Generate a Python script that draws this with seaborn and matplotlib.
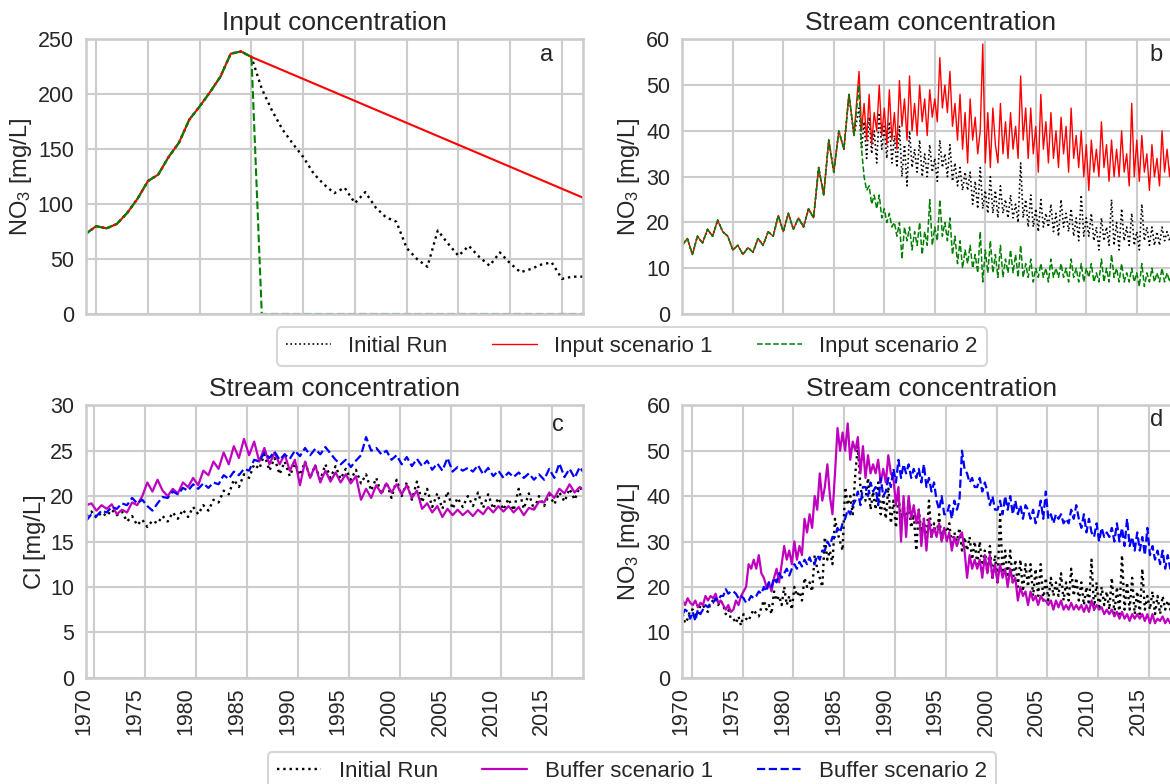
import numpy as np
import pandas as pd
import matplotlib
matplotlib.use("Agg")
import matplotlib.pyplot as plt
import seaborn as sns

# ---------------- data ----------------
# Panel a: input concentration (yearly)
a_years = [1969, 1970, 1971, 1972, 1973, 1974, 1975, 1976, 1977, 1978,
           1979, 1980, 1981, 1982, 1983, 1984, 1985]
a_common = [73, 80, 78, 82, 92, 105, 121, 127, 143, 156,
            177, 189, 202, 216, 237, 239, 234]
a_initial_years = list(range(1986, 2018))
a_initial_tail = [205, 185, 168, 155, 143, 128, 118, 110, 115, 101, 111, 97, 88, 84,
                  60, 50, 43, 76, 64, 53, 62, 52, 44, 56, 46, 38, 41, 45, 47, 32, 34, 34]
a_scen1_years = [2017]
a_scen1_tail = [106]
a_scen2_years = [1986, 2017]
a_scen2_tail = [0, 0]

# Panel b: stream NO3 -- shared part half-yearly from 1970.0, tails quarterly from 1987.5
b_start = 1970.0
b_tail_start = 1987.5
b_common = [15, 16.5, 13, 17, 15.5, 18.5, 17, 20.5, 18, 17, 14, 15, 13, 14.5, 13.5,
            16.5, 15, 18, 17, 21.5, 18, 22, 18.5, 21, 19, 23, 21, 32, 26, 38, 31,
            40, 36, 48, 39]
b_initial_tail = [45, 36, 42, 34, 43, 35, 40, 33, 44, 36, 41, 34, 42, 33, 39, 32,
                  41, 30, 37, 28, 40, 32, 36, 31, 38, 30, 35, 30, 37, 31, 34, 29,
                  38, 32, 35, 30, 37, 29, 33, 28, 32, 27, 31, 27, 31, 24, 29, 23,
                  32, 23, 27, 22, 30, 22, 27, 21, 28, 22, 25, 21, 26, 21, 24, 20,
                  33, 21, 25, 19, 26, 19, 23, 18, 25, 19, 22, 19, 24, 18, 22, 17,
                  25, 19, 22, 18, 23, 17, 21, 16, 26, 17, 21, 17, 22, 16, 19, 14,
                  21, 16, 19, 15, 25, 15, 20, 14, 23, 16, 19, 15, 22, 15, 18, 14,
                  24, 16, 19, 15, 19, 15, 18, 15, 19, 16, 18, 16, 18, 16, 17]
b_scen1_tail = [53, 40, 46, 38, 48, 37, 44, 40, 50, 39, 45, 37, 49, 38, 44, 36,
                51, 41, 47, 38, 52, 40, 46, 39, 50, 42, 47, 39, 49, 43, 47, 42,
                56, 45, 50, 44, 53, 41, 46, 38, 48, 36, 44, 33, 47, 38, 43, 35,
                40, 59, 33, 44, 32, 45, 37, 33, 46, 35, 42, 34, 44, 36, 41, 34,
                52, 38, 45, 34, 45, 35, 41, 31, 48, 36, 42, 33, 44, 34, 40, 32,
                43, 35, 41, 31, 45, 34, 39, 32, 40, 30, 37, 27, 38, 31, 36, 30,
                42, 32, 37, 29, 38, 30, 36, 30, 40, 31, 35, 28, 46, 30, 38, 29,
                39, 31, 35, 27, 37, 30, 34, 28, 40, 31, 36, 30, 36, 31, 33]
b_scen2_tail = [50, 36, 30, 27, 28, 24, 26, 23, 26, 21, 23, 20, 22, 19, 20, 17,
                20, 12, 19, 16, 19, 14, 18, 15, 20, 13, 18, 15, 25, 15, 19, 16,
                25, 17, 20, 16, 21, 13, 17, 11, 16, 10, 14, 11, 15, 10, 13, 9,
                18, 7, 14, 9, 16, 9, 13, 8, 15, 8, 12, 9, 14, 9, 13, 8,
                15, 8, 11, 8, 12, 7, 10, 8, 11, 8, 10, 7, 12, 8, 10, 8,
                11, 8, 10, 7, 12, 8, 10, 7, 11, 7, 10, 8, 11, 7, 9, 7,
                12, 7, 10, 7, 13, 8, 10, 7, 11, 7, 9, 7, 10, 7, 9, 6,
                11, 6, 9, 7, 10, 7, 9, 7, 10, 7, 9, 7, 9, 7, 8]

# Panel c: stream Cl (half-yearly from 1969.2)
c_start = 1969.2
c_initial = [17.8, 18.3, 17.6, 18.2, 17.8, 18.5, 17.9, 18.3, 17.2, 17.8,
             16.8, 17.4, 16.6, 17.3, 17.0, 17.8, 17.2, 18.2, 17.5, 18.5,
             17.7, 18.8, 18.0, 19.0, 18.4, 19.6, 19.3, 20.6, 20.2, 21.8,
             21.0, 22.4, 22.0, 23.5, 23.0, 24.6, 22.8, 24.2, 22.4, 23.8,
             22.2, 23.6, 22.3, 23.8, 22.0, 23.4, 21.8, 23.5, 22.0, 23.3,
             21.9, 23.0, 21.8, 22.9, 21.4, 22.4, 20.6, 22.0, 20.2, 21.5,
             19.8, 21.8, 20.0, 21.5, 19.6, 21.6, 19.3, 20.8, 18.8, 20.3,
             18.6, 20.5, 18.6, 19.8, 18.8, 20.0, 18.9, 20.4, 18.7, 20.2,
             18.6, 19.8, 18.5, 19.7, 18.4, 20.8, 18.6, 20.3, 18.5, 20.0,
             18.9, 20.2, 19.1, 20.4, 19.4, 20.8, 19.6, 21.0, 20.2]
c_buffer1 = [19.0, 19.2, 18.4, 19.0, 18.6, 19.1, 18.0, 18.5, 18.2, 19.3,
             19.0, 20.0, 21.5, 20.5, 21.8, 20.6, 20.0, 20.8, 20.3, 21.5,
             21.0, 22.0, 21.2, 22.8, 22.3, 23.8, 23.0, 24.8, 23.5, 25.5,
             24.2, 26.3, 24.5, 26.0, 23.8, 25.3, 23.5, 24.8, 23.5, 24.6,
             22.8, 24.0, 21.2, 23.8, 22.0, 23.4, 21.5, 22.8, 21.6, 22.6,
             21.5, 22.4, 21.4, 22.2, 19.6, 20.8, 19.8, 21.2, 20.3, 21.4,
             20.4, 21.3, 20.2, 21.2, 19.8, 20.6, 18.6, 19.2, 18.2, 18.9,
             17.7, 18.6, 17.9, 18.5, 17.9, 18.4, 17.8, 18.5, 18.0, 18.8,
             18.2, 18.9, 18.3, 18.9, 18.2, 18.8, 17.9, 18.7, 18.5, 19.4,
             19.3, 20.4, 19.8, 20.8, 20.3, 21.3, 20.4, 21.0, 20.6]
c_buffer2 = [17.3, 18.0, 17.8, 18.4, 18.2, 18.8, 18.6, 19.2, 19.0, 19.8,
             19.2, 19.6, 18.9, 18.4, 19.2, 19.9, 19.8, 20.5, 20.2, 20.9,
             20.6, 21.3, 20.8, 21.4, 20.9, 21.5, 21.3, 22.3, 21.9, 22.7,
             22.3, 23.0, 22.8, 24.0, 23.8, 24.8, 24.2, 24.9, 24.0, 24.6,
             24.1, 25.0, 24.4, 25.3, 24.5, 25.2, 24.6, 25.4, 24.7, 24.0,
             23.5, 24.0, 23.2, 23.9, 24.5, 26.5, 25.0, 25.3, 24.6, 25.0,
             24.0, 24.5, 23.5, 24.3, 23.3, 24.1, 23.3, 23.9, 22.9, 23.6,
             22.8, 24.2, 22.7, 23.2, 22.8, 23.1, 22.7, 23.4, 22.4, 23.1,
             22.2, 22.8, 22.0, 22.6, 22.1, 22.6, 22.0, 22.5, 21.8, 22.4,
             21.8, 23.0, 22.0, 23.6, 22.1, 23.0, 22.0, 23.2, 22.4]

# Panel d: stream NO3 with buffers (quarterly from 1969.1, one row per year)
d_start = 1969.1
d_initial = [14, 12, 13, 15, 15, 14, 13.5, 16, 16, 15, 14.5, 16.5,
             17, 17.5, 16, 17, 16, 14, 15, 13, 13, 12, 13.5, 11.5,
             14, 13, 12.5, 14, 15, 14, 13.5, 15.5, 17, 15, 16, 14,
             19, 17, 18, 16, 20, 16, 18, 15, 20, 18, 19, 17,
             22, 20, 21, 19, 27, 24, 22, 20, 31, 26, 28, 25,
             35, 32, 30, 28, 42, 38, 40, 36, 45, 51, 42, 39,
             39, 44, 37, 41, 37, 43, 36, 40, 35, 42, 34, 39,
             33, 40, 35, 38, 34, 39, 33, 36, 28, 37, 32, 35,
             30, 39, 31, 34, 31, 36, 30, 33, 32, 34, 29, 32,
             30, 33, 28, 31, 28, 31, 26, 30, 25, 30, 24, 28,
             23, 29, 22, 27, 21, 36, 23, 28, 22, 28, 21, 26,
             20, 26, 19, 25, 20, 25, 18, 24, 18, 25, 17, 22,
             17, 22, 18, 21, 18, 23, 17, 21, 17, 24, 18, 22,
             17, 21, 16, 20, 16, 26, 15, 21, 15, 20, 16, 19,
             15, 22, 14, 20, 14, 27, 15, 21, 15, 22, 14, 19,
             14, 24, 15, 18, 15, 19, 14, 18, 14, 18, 15, 17,
             15, 18, 16, 17, 16]
d_buffer1 = [17, 16, 17.5, 16.5, 16, 17, 15.5, 16.5, 16, 18, 17, 18,
             17.5, 18.5, 16.5, 17, 16, 15, 16, 14.5, 15, 17, 16, 18,
             19, 20, 25, 24, 26, 24, 27, 23, 22, 20, 21, 19,
             22, 24, 21, 25, 29, 26, 28, 25, 30, 26, 29, 27,
             35, 32, 36, 33, 40, 37, 45, 39, 42, 47, 40, 36,
             45, 55, 50, 54, 50, 56, 48, 52, 50, 53, 45, 51,
             44, 49, 45, 47, 45, 48, 43, 46, 43, 49, 45, 44,
             38, 42, 30, 40, 31, 40, 35, 38, 34, 37, 29, 35,
             28, 35, 31, 33, 31, 34, 30, 33, 30, 32, 28, 31,
             29, 31, 32, 28, 22, 27, 24, 26, 24, 26, 22, 27,
             23, 27, 22, 25, 21, 25, 22, 24, 20, 24, 21, 22,
             17, 20, 18, 19, 16, 19, 17, 18, 16, 18, 17, 17,
             16, 17, 15, 17, 15.5, 17, 15, 16, 15, 16.5, 15, 16,
             15, 16, 14.5, 16, 14.5, 17, 15, 16, 15, 15.5, 14, 15,
             14, 15, 13.5, 14.5, 13, 14.5, 13, 14, 12.5, 14, 13, 14,
             13, 14, 12.5, 14, 12, 14, 12, 13, 12.5, 13.5, 12, 13,
             12, 13, 12, 13, 12]
d_buffer2 = [14, 15, 14.5, 13, 14.5, 12.5, 15, 14, 15, 16, 15.5, 16.5,
             16.5, 17.5, 17, 18, 18, 19.5, 18.5, 19, 19, 18.5, 17.5, 18,
             17.5, 16.5, 17, 18, 17.5, 18, 19, 18.5, 20, 19, 21, 20,
             22, 21, 23, 22, 23, 24, 22.5, 24, 25, 24, 25.5, 24.5,
             26, 25, 26.5, 25, 25, 27, 26, 28, 28, 30, 29, 31,
             31, 33, 32, 34, 35, 37, 36, 38, 39, 41, 38, 42,
             42, 40, 43, 41, 42, 38, 44, 40, 41, 44, 42, 46,
             43, 48, 44, 47, 45, 47, 44, 46, 44, 46, 43, 47,
             42, 44, 41, 43, 39, 37, 40, 36, 36, 38, 35, 39,
             37, 39, 50, 46, 45, 43, 44, 42, 42, 44, 41, 43,
             41, 38, 40, 37, 37, 39, 36, 40, 37, 40, 36, 39,
             36, 38, 35, 38, 37, 35, 37, 34, 36, 39, 35, 41,
             35, 36, 34, 36, 35, 36, 34, 35, 34, 37, 35, 38,
             35, 33, 36, 32, 35, 32, 31, 34, 30, 33, 31, 32,
             31, 33, 30, 34, 30, 33, 29, 35, 29, 31, 28, 32,
             28, 31, 27, 33, 27, 29, 26, 28, 25, 28, 24, 27,
             24, 26, 23, 25, 25]

year_ticks = [1970, 1975, 1980, 1985, 1990, 1995, 2000, 2005, 2010, 2015, 2020]
top_labels = ["Initial Run", "Input scenario 1", "Input scenario 2"]
bottom_labels = ["Initial Run", "Buffer scenario 1", "Buffer scenario 2"]

RED, GREEN, BLUE, MAGENTA, BLACK = "#ff0000", "#008000", "#0000ff", "#bf00bf", "#000000"

# ---------------- style ----------------
sns.set_theme(style="whitegrid", context="talk")
plt.rcParams["font.family"] = ["Liberation Sans", "DejaVu Sans"]
plt.rcParams["mathtext.fontset"] = "custom"
plt.rcParams["mathtext.rm"] = "Liberation Sans"
plt.rcParams["mathtext.it"] = "Liberation Sans:italic"

TICK = 15.5
TITLE = 19
LABEL = 17

W, H = 1170, 784
fig = plt.figure(figsize=(W / 100, H / 100), dpi=100)


def rect(l, t, w, h):
    return [l / W, 1 - (t + h) / H, w / W, h / H]


ax_a = fig.add_axes(rect(85.8, 39.4, 496.9, 274.6))
ax_b = fig.add_axes(rect(682.3, 39.4, 496.9, 274.6))
ax_c = fig.add_axes(rect(85.8, 405.3, 497.5, 272.4))
ax_d = fig.add_axes(rect(682.4, 405.3, 497.5, 272.4))


def steps(start, n, step):
    return start + step * np.arange(n)


def line(ax, x, y, color, ls, lw, label):
    sns.lineplot(x=np.asarray(x, dtype=float), y=np.asarray(y, dtype=float), ax=ax,
                 color=color, linestyle=ls, linewidth=lw, label=label,
                 errorbar=None, sort=False)


# Panel a
line(ax_a, a_years + a_initial_years, a_common + a_initial_tail, BLACK, ":", 1.7, top_labels[0])
line(ax_a, a_years + a_scen1_years, a_common + a_scen1_tail, RED, "-", 1.5, top_labels[1])
line(ax_a, a_years + a_scen2_years, a_common + a_scen2_tail, GREEN, "--", 1.5, top_labels[2])

# Panel b
x_common = steps(b_start, len(b_common), 0.5)


def b_series(tail):
    x = np.concatenate([x_common, steps(b_tail_start, len(tail), 0.25)])
    return x, b_common + tail


line(ax_b, *b_series(b_initial_tail), BLACK, ":", 1.2, top_labels[0])
line(ax_b, *b_series(b_scen1_tail), RED, "-", 1.0, top_labels[1])
line(ax_b, *b_series(b_scen2_tail), GREEN, "--", 1.1, top_labels[2])

# Panel c
line(ax_c, steps(c_start, len(c_initial), 0.5), c_initial, BLACK, ":", 1.7, bottom_labels[0])
line(ax_c, steps(c_start, len(c_buffer1), 0.5), c_buffer1, MAGENTA, "-", 1.6, bottom_labels[1])
line(ax_c, steps(c_start, len(c_buffer2), 0.5), c_buffer2, BLUE, "--", 1.6, bottom_labels[2])

# Panel d
line(ax_d, steps(d_start, len(d_initial), 0.25), d_initial, BLACK, ":", 1.7, bottom_labels[0])
line(ax_d, steps(d_start, len(d_buffer1), 0.25), d_buffer1, MAGENTA, "-", 1.6, bottom_labels[1])
line(ax_d, steps(d_start, len(d_buffer2), 0.25), d_buffer2, BLUE, "--", 1.6, bottom_labels[2])

settings = [
    (ax_a, (1969.0, 2017.0), (0, 250), [0, 50, 100, 150, 200, 250], "Input concentration",
     "NO$_{\\mathregular{3}}$ [mg/L]", "a", 0.928, 0.943),
    (ax_b, (1970.0, 2019.2), (0, 60), [0, 10, 20, 30, 40, 50, 60], "Stream concentration",
     "NO$_{\\mathregular{3}}$ [mg/L]", "b", 0.953, 0.943),
    (ax_c, (1969.15, 2018.05), (0, 30), [0, 5, 10, 15, 20, 25, 30], "Stream concentration",
     "Cl [mg/L]", "c", 0.949, 0.928),
    (ax_d, (1969.08, 2018.05), (0, 60), [0, 10, 20, 30, 40, 50, 60], "Stream concentration",
     "NO$_{\\mathregular{3}}$ [mg/L]", "d", 0.953, 0.946),
]
for ax, xl, yl, yt, title, ylab, letter, lx, ly in settings:
    leg = ax.get_legend()
    if leg is not None:
        leg.remove()
    ax.set_xticks(year_ticks)
    ax.set_yticks(yt)
    ax.set_xlim(*xl)
    ax.set_ylim(*yl)
    ax.set_xlabel("")
    ax.tick_params(axis="both", labelsize=TICK, length=0)
    ax.tick_params(axis="y", pad=8.5)
    ax.tick_params(axis="x", pad=7.0)
    ax.set_ylabel(ylab, fontsize=LABEL, labelpad=3)
    ax.set_title(title, fontsize=TITLE, pad=7)
    ax.text(lx, ly, letter, transform=ax.transAxes, ha="center", va="center", fontsize=17)

for ax in (ax_a, ax_b):
    ax.tick_params(axis="x", labelbottom=False)
for ax in (ax_c, ax_d):
    for lab in ax.get_xticklabels():
        lab.set_rotation(90)
        lab.set_horizontalalignment("right")

h_top, l_top = ax_b.get_legend_handles_labels()
fig.legend(h_top, l_top, loc="center", bbox_to_anchor=(632 / W, 1 - 346.5 / H),
           ncol=3, fontsize=16, frameon=True, borderaxespad=0)
h_bot, l_bot = ax_d.get_legend_handles_labels()
fig.legend(h_bot, l_bot, loc="center", bbox_to_anchor=(632 / W, 1 - 771.5 / H),
           ncol=3, fontsize=16, frameon=True, borderaxespad=0)

fig.savefig("out.png", dpi=100)
